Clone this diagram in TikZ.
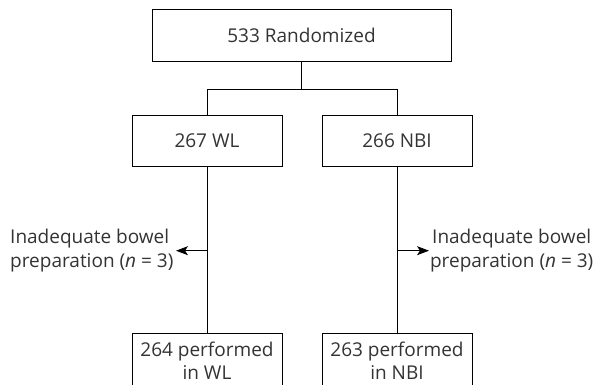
\documentclass[tikz,border=0pt]{standalone}
\usepackage{fontspec}
\setmainfont{Open Sans}
\usetikzlibrary{arrows.meta}
\begin{document}
\begin{tikzpicture}[x=1pt,y=1pt,
  box/.style={draw=black,line width=0.9pt,inner sep=0pt,align=center,text=black!80,font=\fontsize{19}{23.5}\selectfont},
  conn/.style={draw=black,line width=0.9pt},
  arr/.style={conn,-{Stealth[length=12pt,width=9pt,inset=3pt]}},
  lbl/.style={inner sep=0pt,text=black!80,font=\fontsize{19}{23.5}\selectfont}]
\useasboundingbox (0,0) rectangle (597,385);
\node[box,minimum width=299pt,minimum height=52pt] (top) at (301.5,350) {533 Randomized};
\node[box,minimum width=150pt,minimum height=51.5pt] (wl) at (207,244) {267 WL};
\node[box,minimum width=150pt,minimum height=51.5pt] (nbi) at (397,244) {266 NBI};
\node[box,minimum width=150pt,minimum height=55pt] (pwl) at (207,24.2) {264 performed\\in WL};
\node[box,minimum width=150pt,minimum height=55pt] (pnbi) at (397,24.2) {263 performed\\in NBI};
\coordinate (br) at (301.5,295.7);
\coordinate (tl) at (176,134.3);
\coordinate (tr) at (429,134.3);
\draw[conn] (top.south) -- (br);
\draw[conn] (wl.north) |- (br) -| (nbi.north);
\draw[conn] (wl.south) -- (pwl.north);
\draw[conn] (nbi.south) -- (pnbi.north);
\draw[arr] (wl.south |- tl) -- (tl);
\draw[arr] (nbi.south |- tr) -- (tr);
\node[lbl,anchor=west,align=left] (ll) at (10,134.3) {Inadequate bowel\\preparation (\textit{n} = 3)};
\node[lbl,anchor=east,align=center] (rl) at (593.5,134.3) {Inadequate bowel\\preparation (\textit{n} = 3)};
\end{tikzpicture}
\end{document}
